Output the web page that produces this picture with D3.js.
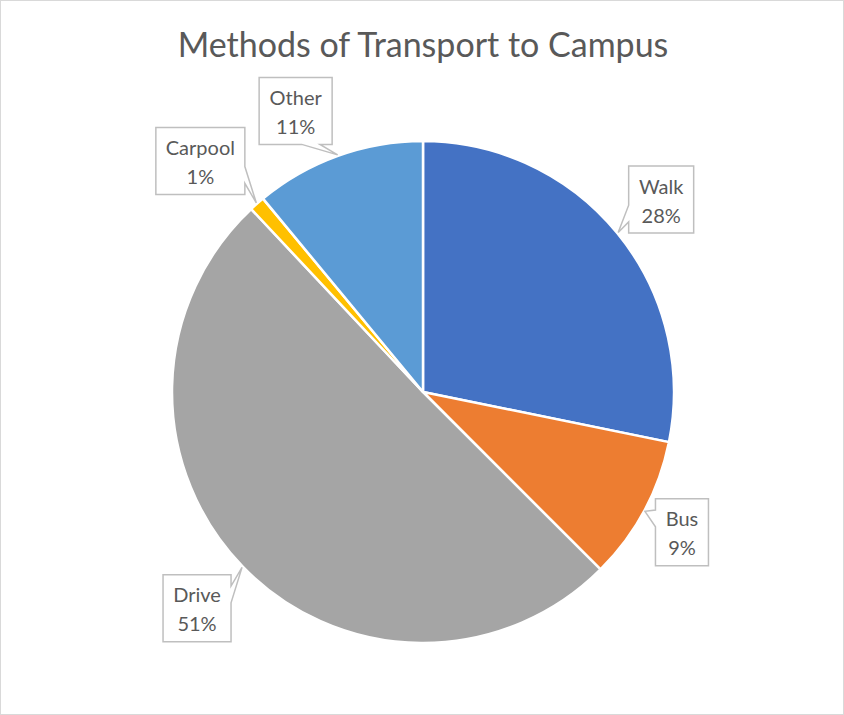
<!DOCTYPE html>
<meta charset="utf-8">
<script src="https://d3js.org/d3.v7.min.js"></script>
<style>
  body { margin: 0; background: #fff; }
  text { font-family: Lato, "Open Sans", sans-serif; }
</style>
<body>
<div id="chart"></div>
<script>
  // data
  const categories = ["Walk", "Bus", "Drive", "Carpool", "Other"];
  const shares = [28.2, 9.3, 50.5, 1.0, 11.0];
  const colors = ["#4472C4", "#ED7D31", "#A5A5A5", "#FFC000", "#5B9BD5"];

  // callout placement (box centre relative to the slice tip)
  const labelOffsets = [[43, -33], [37, 21], [-45, 41], [-56, -42], [-42, -44]];

  const width = 844, height = 715,
      cx = 423, cy = 392, radius = 251;

  const svg = d3.select("#chart").append("svg")
      .attr("width", width)
      .attr("height", height);

  // chart border
  svg.append("rect")
      .attr("x", 0.5).attr("y", 0.5)
      .attr("width", width - 1).attr("height", height - 1)
      .attr("fill", "#fff")
      .attr("stroke", "#d9d9d9");

  svg.append("text")
      .attr("x", cx)
      .attr("y", 57)
      .attr("text-anchor", "middle")
      .attr("fill", "#595959")
      .style("font-size", "34px")
      .text("Methods of Transport to Campus");

  const data = categories.map((c, i) => ({name: c, value: shares[i], color: colors[i], off: labelOffsets[i]}));
  const total = d3.sum(shares);

  const pie = d3.pie().sort(null).value(d => d.value);
  const arc = d3.arc().innerRadius(0).outerRadius(radius);
  const arcs = pie(data);

  const g = svg.append("g").attr("transform", `translate(${cx},${cy})`);

  g.selectAll("path")
    .data(arcs)
    .join("path")
      .attr("d", arc)
      .attr("fill", d => d.data.color)
      .attr("stroke", "#fff")
      .attr("stroke-width", 2.5)
      .attr("stroke-linejoin", "round");

  // callout labels
  const pad = 10, boxH = 67;
  const labels = g.append("g");
  arcs.forEach(d => {
    const a = (d.startAngle + d.endAngle) / 2;
    const tip = [Math.sin(a) * (radius + 1), -Math.cos(a) * (radius + 1)];
    const c = [tip[0] + d.data.off[0], tip[1] + d.data.off[1]];
    const lg = labels.append("g");
    const path = lg.append("path")
        .attr("fill", "#fff")
        .attr("stroke", "#bfbfbf")
        .attr("stroke-width", 1.5);
    const txt = lg.append("text")
        .attr("text-anchor", "middle")
        .attr("fill", "#595959")
        .style("font-size", "20px");
    txt.append("tspan").attr("x", c[0]).attr("y", c[1] - 6).text(d.data.name);
    txt.append("tspan").attr("x", c[0]).attr("y", c[1] + 23)
        .text(Math.round(d.data.value / total * 100) + "%");
    const w = Math.round(txt.node().getBBox().width + 2 * pad);
    const l = c[0] - w / 2, t = c[1] - boxH / 2, r = l + w, b = t + boxH;
    // wedge rectangle callout, base at 2/12-5/12 or 7/12-10/12 of the side
    const dx = tip[0] - c[0], dy = tip[1] - c[1];
    const fx = dx > 0 ? [7, 10] : [2, 5], fy = dy > 0 ? [7, 10] : [2, 5];
    const x1 = l + w * fx[0] / 12, x2 = l + w * fx[1] / 12;
    const y1 = t + boxH * fy[0] / 12, y2 = t + boxH * fy[1] / 12;
    const horiz = Math.abs(dx) / w > Math.abs(dy) / boxH;
    const p = d3.path();
    p.moveTo(l, t);
    if (!horiz && dy < 0) { p.lineTo(x1, t); p.lineTo(tip[0], tip[1]); p.lineTo(x2, t); }
    p.lineTo(r, t);
    if (horiz && dx > 0) { p.lineTo(r, y1); p.lineTo(tip[0], tip[1]); p.lineTo(r, y2); }
    p.lineTo(r, b);
    if (!horiz && dy > 0) { p.lineTo(x2, b); p.lineTo(tip[0], tip[1]); p.lineTo(x1, b); }
    p.lineTo(l, b);
    if (horiz && dx < 0) { p.lineTo(l, y2); p.lineTo(tip[0], tip[1]); p.lineTo(l, y1); }
    p.closePath();
    path.attr("d", p.toString());
  });
</script>
</body>
